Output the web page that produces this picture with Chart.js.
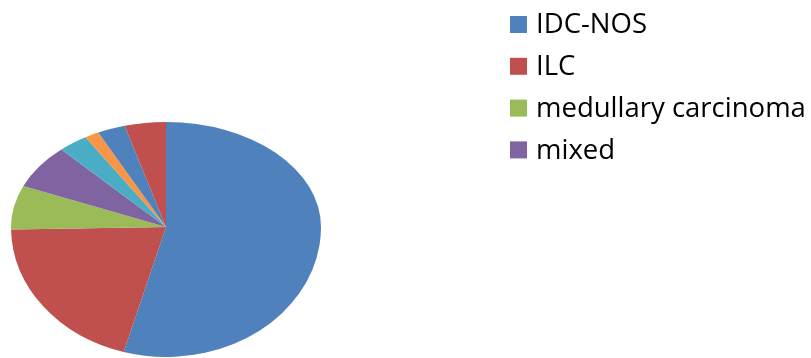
<!DOCTYPE html>
<html>
<head>
<meta charset="utf-8">
<script src="https://cdn.jsdelivr.net/npm/chart.js@4"></script>
<style>
  html, body { margin: 0; padding: 0; background: #fff; }
  #wrap { width: 811px; height: 358px; }
</style>
</head>
<body>
<div id="wrap"><canvas id="pie"></canvas></div>
<script>
// histological types, share of cases (%)
const labels = ['IDC-NOS', 'ILC', 'medullary carcinoma', 'mixed', 'mucinous', 'tubular', 'papillary', 'other'];
const shares = [54.4, 20.3, 6.7, 6.8, 3.1, 1.5, 2.9, 4.3];
const colors = ['#4F81BD', '#C0504D', '#9BBB59', '#8064A2', '#4BACC6', '#F79646', '#4F81BD', '#C0504D'];
const legendCount = 4;

// squash the pie into a tilted ellipse: upper half flatter than the lower half
const tilt = {
  id: 'tilt',
  centreX: 166, centreY: 227, radiusX: 155, topRadiusY: 105, bottomRadiusY: 130,
  apply(chart, top) {
    const ctx = chart.ctx;
    const arc = chart.getDatasetMeta(0).data[0];
    const r = arc.outerRadius;
    ctx.save();
    ctx.beginPath();
    if (top) ctx.rect(0, 0, chart.width, this.centreY);
    else ctx.rect(0, this.centreY, chart.width, chart.height - this.centreY);
    ctx.clip();
    ctx.translate(this.centreX, this.centreY);
    ctx.scale(this.radiusX / r, (top ? this.topRadiusY : this.bottomRadiusY) / r);
    ctx.translate(-arc.x, -arc.y);
  },
  beforeDatasetsDraw(chart) {
    this.apply(chart, true);
  },
  afterDatasetsDraw(chart) {
    chart.ctx.restore();
    this.apply(chart, false);
    chart.getDatasetMeta(0).controller.draw();
    chart.ctx.restore();
  }
};

const sideLegend = {
  id: 'sideLegend',
  afterDraw(chart) {
    const ctx = chart.ctx;
    ctx.save();
    ctx.font = '27.5px "Open Sans"';
    ctx.textBaseline = 'middle';
    labels.slice(0, legendCount).forEach((name, i) => {
      const y = 24.5 + i * 41.8;
      ctx.fillStyle = colors[i];
      ctx.fillRect(510, y - 8.5, 17, 17);
      ctx.fillStyle = '#000';
      ctx.fillText(name, 536, y + 1);
    });
    ctx.restore();
  }
};

new Chart(document.getElementById('pie'), {
  type: 'pie',
  data: {
    labels: labels,
    datasets: [{
      data: shares,
      backgroundColor: colors,
      borderWidth: 0,
      clip: false
    }]
  },
  options: {
    responsive: true,
    maintainAspectRatio: false,
    animation: false,
    events: [],
    layout: { padding: { left: 11, right: 490, top: 24, bottom: 24 } },
    plugins: {
      legend: { display: false },
      tooltip: { enabled: false }
    }
  },
  plugins: [tilt, sideLegend]
});
</script>
</body>
</html>
